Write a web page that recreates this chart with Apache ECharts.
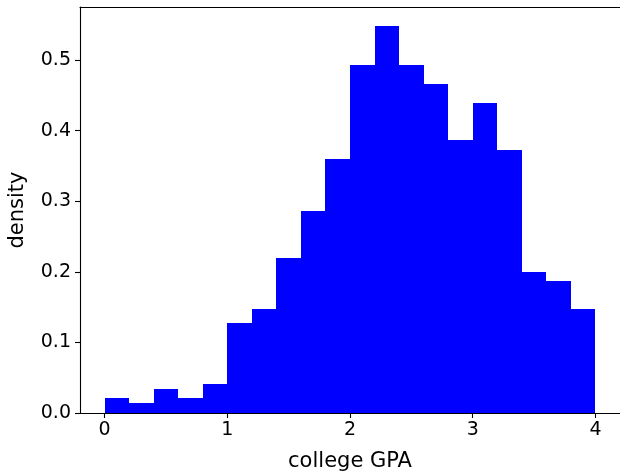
<!DOCTYPE html>
<html>
<head>
<meta charset="utf-8">
<script src="https://cdn.jsdelivr.net/npm/echarts@6/dist/echarts.min.js"></script>
<style>html,body{margin:0;padding:0;background:#fff;}#c{width:620px;height:471px;}</style>
</head>
<body>
<div id="c"></div>
<script>
var binStarts = [0.0,0.2,0.4,0.6,0.8,1.0,1.2,1.4,1.6,1.8,2.0,2.2,2.4,2.6,2.8,3.0,3.2,3.4,3.6,3.8];
var binWidth = 0.2;
var densities = [0.021,0.014,0.0335,0.021,0.0406,0.127,0.1467,0.2194,0.2863,0.3597,0.4934,0.5474,0.4934,0.4664,0.3867,0.4393,0.3725,0.1995,0.1863,0.1467];
var xTicks = [0,1,2,3,4];
var yTicks = [0,0.1,0.2,0.3,0.4,0.5];

var data = binStarts.map(function(s,i){ return [s, s+binWidth, densities[i]]; });
var font = 'DejaVu Sans';
var chart = echarts.init(document.getElementById('c'), null, {renderer:'canvas'});
chart.setOption({
  animation:false,
  backgroundColor:'#ffffff',
  grid:{left:80,right:0,top:7,bottom:58,containLabel:false,outerBoundsMode:'none'},
  xAxis:[{
    type:'value', min:-0.2, max:4.2, position:'bottom',
    name:'college GPA', nameLocation:'middle', nameGap:38,
    nameTextStyle:{fontFamily:font,fontSize:21,color:'#000'},
    axisLine:{show:true,onZero:false,lineStyle:{color:'#000',width:1.1}},
    axisTick:{show:true,length:5,customValues:xTicks,lineStyle:{color:'#000',width:1.1}},
    axisLabel:{show:true,customValues:xTicks,margin:8,fontFamily:font,fontSize:19,color:'#000',formatter:function(v){return String(v);}},
    splitLine:{show:false}
  },{
    type:'value', min:-0.2, max:4.2, position:'top',
    axisLine:{show:true,onZero:false,lineStyle:{color:'#000',width:1.1}},
    axisTick:{show:false}, axisLabel:{show:false}, splitLine:{show:false}
  }],
  yAxis:{
    type:'value', min:0, max:0.575,
    name:'density', nameLocation:'middle', nameGap:52, nameRotate:90,
    nameTextStyle:{fontFamily:font,fontSize:21,color:'#000'},
    axisLine:{show:true,onZero:false,lineStyle:{color:'#000',width:1.1}},
    axisTick:{show:true,length:5,customValues:yTicks,lineStyle:{color:'#000',width:1.1}},
    axisLabel:{show:true,customValues:yTicks,margin:9,fontFamily:font,fontSize:19,color:'#000',formatter:function(v){return v.toFixed(1);}},
    splitLine:{show:false}
  },
  series:[{
    type:'custom',
    xAxisIndex:0,
    data:data,
    renderItem:function(params, api){
      var p0 = api.coord([api.value(0), 0]);
      var p1 = api.coord([api.value(1), api.value(2)]);
      var x0 = Math.round(p0[0]), x1 = Math.round(p1[0]);
      var y0 = Math.round(p0[1]), y1 = Math.round(p1[1]);
      return {type:'rect', shape:{x:x0, y:y1, width:x1-x0, height:y0-y1}, style:{fill:'#0000ff'}};
    },
    encode:{x:[0,1], y:2}
  }]
});
</script>
</body>
</html>
